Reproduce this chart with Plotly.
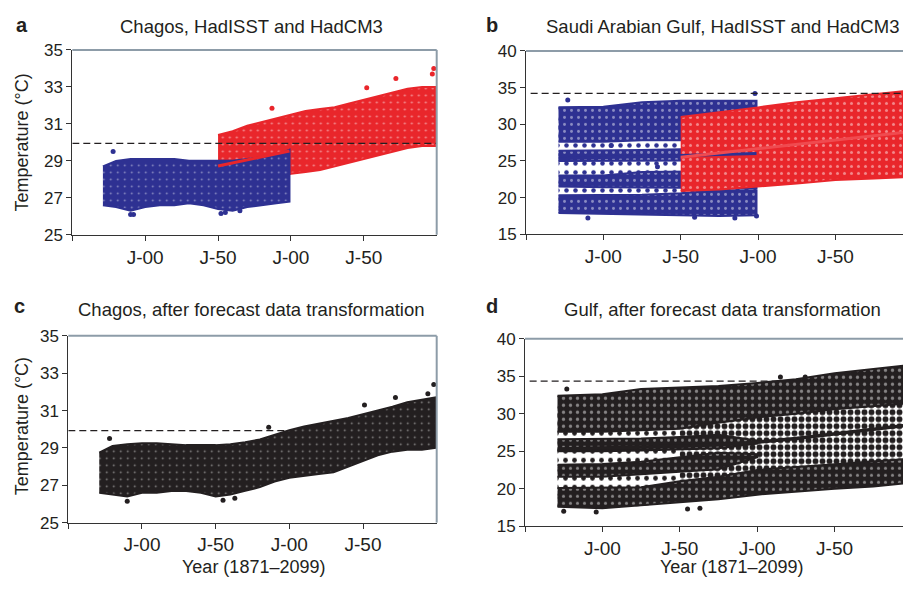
import plotly.graph_objects as go

W, H = 903, 591
BLUE = "#2e3192"
RED = "#e9262b"
BLACK = "#231f20"
AXIS = "#333333"
BOX = "#8d9ca8"
FONT = "Liberation Sans, Arial, Helvetica, sans-serif"

# ---------------- data ----------------
# Panel a: Chagos, HadISST (blue) and HadCM3 (red): cloud envelopes
a_blue_years = [1871, 1880, 1890, 1900, 1910, 1920, 1930, 1940, 1950, 1960, 1970, 1980, 1990, 1999]
a_blue_hi = [28.7, 29.0, 29.1, 29.1, 29.1, 29.1, 29.0, 29.0, 29.0, 29.0, 29.1, 29.2, 29.3, 29.6]
a_blue_lo = [26.6, 26.5, 26.3, 26.5, 26.6, 26.6, 26.7, 26.6, 26.4, 26.3, 26.5, 26.6, 26.7, 26.8]
a_red_years = [1950, 1960, 1970, 1980, 1990, 2000, 2010, 2020, 2030, 2040, 2050, 2060, 2070, 2080, 2090, 2099]
a_red_hi = [30.4, 30.6, 30.9, 31.1, 31.3, 31.5, 31.7, 31.8, 31.9, 32.1, 32.3, 32.5, 32.7, 32.9, 33.0, 33.0]
a_red_lo = [27.8, 27.8, 27.9, 28.0, 28.1, 28.3, 28.4, 28.5, 28.7, 28.9, 29.1, 29.3, 29.5, 29.7, 29.8, 29.8]
a_blue_out_x = [1878, 1890, 1892, 1952, 1955, 1965]
a_blue_out_y = [29.5, 26.1, 26.1, 26.15, 26.2, 26.3]
a_red_out_x = [1987, 2052, 2072, 2097, 2098]
a_red_out_y = [31.85, 32.95, 33.45, 33.7, 34.0]
a_trend_x = [1950, 1999]
a_trend_y = [28.72, 29.53]
a_threshold = 29.95

# Panel b: Saudi Arabian Gulf, HadISST (blue, seasonal bands) and HadCM3 (red)
b_blue_years = [1871, 1900, 1925, 1950, 1975, 1999]
b_blue_b4_hi = [32.3, 32.4, 33.0, 33.2, 33.2, 33.2]
b_blue_b4_lo = [27.6, 27.6, 27.8, 27.8, 27.8, 27.8]
b_blue_b3_hi = [26.4, 26.4, 26.5, 26.6, 26.6, 26.6]
b_blue_b3_lo = [25.0, 25.0, 25.0, 25.1, 25.1, 25.1]
b_blue_b2_hi = [23.0, 23.0, 23.5, 23.6, 23.6, 23.6]
b_blue_b2_lo = [21.5, 21.4, 21.4, 21.3, 21.3, 21.3]
b_blue_b1_hi = [20.3, 20.3, 20.4, 20.6, 21.0, 21.0]
b_blue_b1_lo = [17.9, 17.7, 17.7, 17.6, 17.5, 17.6]
b_red_years = [1950, 1975, 2000, 2025, 2050, 2075, 2099]
b_red_hi = [31.0, 31.6, 32.3, 33.0, 33.6, 34.1, 34.6]
b_red_lo = [20.9, 21.1, 21.5, 21.9, 22.4, 22.6, 22.8]
b_blue_out_x = [1877, 1998, 1890, 1959, 1985, 1999, 1935, 1905]
b_blue_out_y = [33.3, 34.2, 17.2, 17.3, 17.2, 17.5, 24.2, 27.1]
b_blue_trend_x = [1871, 1999]
b_blue_trend_y = [25.3, 26.0]
b_red_trend_x = [1950, 2099]
b_red_trend_y = [25.5, 29.0]
b_threshold = 34.2

# Panel c: Chagos after forecast data transformation
c_years = [1871, 1880, 1890, 1900, 1910, 1920, 1930, 1940, 1950, 1960, 1970, 1980,
           1990, 2000, 2010, 2020, 2030, 2040, 2050, 2060, 2070, 2080, 2090, 2099]
c_hi = [28.75, 29.1, 29.2, 29.25, 29.25, 29.2, 29.15, 29.15, 29.15, 29.2, 29.3, 29.45,
        29.7, 29.95, 30.15, 30.3, 30.45, 30.6, 30.8, 31.0, 31.2, 31.45, 31.6, 31.7]
c_lo = [26.6, 26.5, 26.4, 26.6, 26.6, 26.7, 26.7, 26.6, 26.4, 26.5, 26.7, 26.9,
        27.2, 27.4, 27.5, 27.6, 27.7, 28.0, 28.3, 28.6, 28.8, 28.9, 28.9, 29.0]
c_out_x = [1878, 1890, 1955, 1963, 1986, 2051, 2072, 2094, 2098]
c_out_y = [29.5, 26.15, 26.2, 26.3, 30.1, 31.3, 31.7, 31.9, 32.4]
c_threshold = 29.93

# Panel d: Gulf after forecast data transformation
d_years = [1871, 1900, 1925, 1950, 1975, 2000, 2025, 2050, 2075, 2099]
d_top_hi = [32.4, 32.6, 33.3, 33.5, 33.7, 34.1, 34.6, 35.4, 36.0, 36.5]
d_top_lo = [27.6, 27.6, 27.8, 28.0, 28.8, 29.5, 30.0, 30.6, 31.0, 31.4]
d_b1_hi = [20.1, 20.1, 20.2, 21.0, 21.6, 22.5, 22.9, 23.3, 23.6, 24.0]
d_b1_lo = [17.6, 17.4, 17.7, 18.2, 18.6, 19.2, 19.6, 20.0, 20.3, 20.8]
d_early_years = [1871, 1900, 1925, 1950, 1975, 2000]
d_mid_hi = [26.6, 26.6, 26.7, 26.9, 27.2, 26.4]
d_mid_lo = [25.0, 25.0, 25.1, 25.2, 25.4, 26.0]
d_b2_hi = [23.2, 23.3, 23.6, 24.2, 24.8, 24.6]
d_b2_lo = [21.6, 21.6, 22.0, 22.3, 22.6, 24.2]
d_out_x = [1877, 2015, 2031, 1875, 1896, 1955, 1963]
d_out_y = [33.3, 34.9, 34.9, 17.0, 16.9, 17.3, 17.4]
d_trend_x = [1871, 1900, 1925, 1950, 1975, 2000, 2025, 2050, 2075, 2099]
d_trend_y = [25.3, 25.4, 25.5, 25.65, 25.85, 26.2, 26.7, 27.3, 27.85, 28.5]
d_threshold = 34.35

x_tickvals = [1850, 1900, 1950, 2000, 2050]
x_ticktext = ["", "J-00", "J-50", "J-00", "J-50"]

# ---------------- figure ----------------
fig = go.Figure()


def band(years, lo, hi, color, xa, ya, flecks=0.08, sparse=None):
    xs = list(years) + list(reversed(years))
    ys = list(hi) + list(reversed(lo))
    kw = dict(x=xs, y=ys, mode="lines", fill="toself", xaxis=xa, yaxis=ya,
              hoverinfo="skip", showlegend=False)
    if sparse is None:
        kw.update(fillcolor=color, line=dict(color=color, width=2),
                  fillpattern=dict(shape=".", fgcolor="white", bgcolor=color, fgopacity=0.45,
                                   size=7, solidity=flecks))
    else:
        kw.update(fillcolor=color, line=dict(width=0),
                  fillpattern=dict(shape=".", fgcolor=color, bgcolor="white", fgopacity=1,
                                   size=sparse[0], solidity=sparse[1]))
    fig.add_trace(go.Scatter(**kw))


def dots(xs, ys, color, xa, ya):
    fig.add_trace(go.Scatter(x=xs, y=ys, mode="markers", xaxis=xa, yaxis=ya,
                             marker=dict(color=color, size=5, line=dict(width=0)),
                             hoverinfo="skip", showlegend=False))


def line(xs, ys, color, xa, ya, width=3, dash=None):
    fig.add_trace(go.Scatter(x=xs, y=ys, mode="lines", xaxis=xa, yaxis=ya,
                             line=dict(color=color, width=width, dash=dash),
                             hoverinfo="skip", showlegend=False))


# Panel a
band(a_red_years, a_red_lo, a_red_hi, RED, "x", "y", flecks=0.08)
dots(a_red_out_x, a_red_out_y, RED, "x", "y")
band(a_blue_years, a_blue_lo, a_blue_hi, BLUE, "x", "y", flecks=0.05)
dots(a_blue_out_x, a_blue_out_y, BLUE, "x", "y")
line(a_trend_x, a_trend_y, RED, "x", "y")
line([1850, 2100], [a_threshold] * 2, BLACK, "x", "y", width=1.3, dash="7px,4px")

# Panel b
band(b_blue_years, b_blue_b1_lo, b_blue_b4_hi, BLUE, "x2", "y2", sparse=(9, 0.2))
for lo, hi in [(b_blue_b1_lo, b_blue_b1_hi), (b_blue_b2_lo, b_blue_b2_hi),
               (b_blue_b3_lo, b_blue_b3_hi), (b_blue_b4_lo, b_blue_b4_hi)]:
    band(b_blue_years, lo, hi, BLUE, "x2", "y2", flecks=0.14)
dots(b_blue_out_x, b_blue_out_y, BLUE, "x2", "y2")
band(b_red_years, b_red_lo, b_red_hi, RED, "x2", "y2", flecks=0.15)
line(b_blue_trend_x, b_blue_trend_y, BLUE, "x2", "y2")
line(b_red_trend_x, b_red_trend_y, "#f04a4f", "x2", "y2")
line([1853, 2100], [b_threshold] * 2, BLACK, "x2", "y2", width=1.3, dash="7px,4px")

# Panel c
line([1850, 1998], [c_threshold] * 2, BLACK, "x3", "y3", width=1.3, dash="7px,4px")
band(c_years, c_lo, c_hi, BLACK, "x3", "y3", flecks=0.05)
dots(c_out_x, c_out_y, BLACK, "x3", "y3")

# Panel d
band(d_years[:4], d_b1_lo[:4], d_top_hi[:4], BLACK, "x4", "y4", sparse=(9, 0.22))
band(d_years[3:], d_b1_lo[3:], d_top_hi[3:], BLACK, "x4", "y4", sparse=(7, 0.55))
band(d_years, d_b1_lo, d_b1_hi, BLACK, "x4", "y4", flecks=0.16)
band(d_years, d_top_lo, d_top_hi, BLACK, "x4", "y4", flecks=0.18)
band(d_early_years, d_mid_lo, d_mid_hi, BLACK, "x4", "y4", flecks=0.14)
band(d_early_years, d_b2_lo, d_b2_hi, BLACK, "x4", "y4", flecks=0.16)
dots(d_out_x, d_out_y, BLACK, "x4", "y4")
line(d_trend_x, d_trend_y, BLACK, "x4", "y4", width=3.5)
line([1853, 2045], [d_threshold] * 2, BLACK, "x4", "y4", width=1.3, dash="7px,4px")


def px_x(v):
    return v / W


def px_y(v):
    return 1 - v / H


common_x = dict(tickvals=x_tickvals, ticktext=x_ticktext, ticks="outside", ticklen=5,
                tickcolor=AXIS, showline=True, linecolor=AXIS, linewidth=1,
                showgrid=False, zeroline=False, fixedrange=True,
                tickfont=dict(family=FONT, size=19, color=BLACK))
common_y = dict(ticks="outside", ticklen=5, tickcolor=AXIS, showline=True, linecolor=AXIS,
                linewidth=1, showgrid=False, zeroline=False, fixedrange=True,
                tickfont=dict(family=FONT, size=17, color=BLACK))

# panel pixel boxes: left, right, top, bottom
boxes = {
    "a": (72.3, 436.7, 42.3, 233.3),
    "b": (526.0, 903.0, 43.3, 232.7),
    "c": (68.3, 436.7, 337.7, 530.7),
    "d": (525.0, 903.0, 340.7, 534.3),
}
xr = {"a": [1850, 2100], "b": [1850, 1850 + (903 - 526.0) / 1.547],
      "c": [1850, 2100], "d": [1850, 1850 + (903 - 525.0) / 1.548]}
yr = {"a": ([25, 35], 2), "b": ([15, 40], 5), "c": ([25, 35], 2), "d": ([15, 40], 5)}
names = {"a": ("xaxis", "yaxis", "y", "x"), "b": ("xaxis2", "yaxis2", "y2", "x2"),
         "c": ("xaxis3", "yaxis3", "y3", "x3"), "d": ("xaxis4", "yaxis4", "y4", "x4")}

layout_axes = {}
shapes = []
for k, (l, r, t, b) in boxes.items():
    xn, yn, ya, xa = names[k]
    layout_axes[xn] = dict(common_x, domain=[px_x(l), px_x(r)], range=xr[k], anchor=ya)
    layout_axes[yn] = dict(common_y, domain=[px_y(b), px_y(t)], range=yr[k][0],
                           dtick=yr[k][1], tick0=yr[k][0][0], anchor=xa)
    xref = xa + " domain"
    yref = ya + " domain"
    shapes.append(dict(type="line", xref=xref, yref=yref, x0=0, x1=1, y0=1, y1=1,
                       line=dict(color=BOX, width=2), layer="above"))
    if k in ("a", "c"):
        shapes.append(dict(type="line", xref=xref, yref=yref, x0=1, x1=1, y0=0, y1=1,
                           line=dict(color=BOX, width=2), layer="above"))

annotations = []


def text(s, x, y, size, bold=False, angle=0, anchor="center"):
    annotations.append(dict(text=("<b>%s</b>" % s) if bold else s, x=px_x(x), y=px_y(y),
                            xref="paper", yref="paper", showarrow=False, textangle=angle,
                            xanchor=anchor, yanchor="middle",
                            font=dict(family=FONT, size=size, color=BLACK)))


text("a", 22, 17, 20, bold=True)
text("Chagos, HadISST and HadCM3", 251, 18, 18.5)
text("b", 492, 17, 20, bold=True)
text("Saudi Arabian Gulf, HadISST and HadCM3", 722, 18, 18.5)
text("c", 19, 307, 20, bold=True)
text("Chagos, after forecast data transformation", 251, 310, 18.5)
text("d", 492, 307, 20, bold=True)
text("Gulf, after forecast data transformation", 722, 310, 18.5)
text("Temperature (°C)", 22, 138, 18, angle=-90)
text("Temperature (°C)", 22, 431, 18, angle=-90)
text("Year (1871–2099)", 253, 577, 18)
text("Year (1871–2099)", 731, 577, 18)

fig.update_layout(width=W, height=H, margin=dict(l=0, r=0, t=0, b=0),
                  paper_bgcolor="white", plot_bgcolor="white", showlegend=False,
                  shapes=shapes, annotations=annotations, **layout_axes)

fig.write_html("out.html")
